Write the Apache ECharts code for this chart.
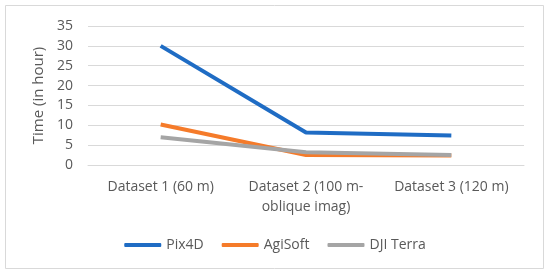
<!DOCTYPE html>
<html>
<head>
<meta charset="utf-8">
<script src="https://cdn.jsdelivr.net/npm/echarts@6/dist/echarts.min.js"></script>
<style>
html, body { margin: 0; padding: 0; background: #fff; }
#main { width: 550px; height: 276px; }
</style>
</head>
<body>
<div id="main"></div>
<script>
var categories = ['Dataset 1 (60 m)', 'Dataset 2 (100 m-\noblique imag)', 'Dataset 3 (120 m)'];
var pix4d = [30, 8.2, 7.4];
var agisoft = [10.2, 2.5, 2.4];
var djiTerra = [7, 3.2, 2.5];
var yTicks = { min: 0, max: 35, interval: 5 };

var myChart = echarts.init(document.getElementById('main'));
var font = 'Open Sans';

option = {
    backgroundColor: '#fff',
    animation: false,
    graphic: [{
        type: 'rect',
        shape: { x: 5.5, y: 5.5, width: 538, height: 263 },
        style: { fill: 'none', stroke: '#d9d9d9', lineWidth: 1 }
    }],
    grid: {
        left: 88,
        right: 26,
        top: 26,
        bottom: 111
    },
    legend: {
        top: 233,
        left: 'center',
        itemWidth: 37,
        itemHeight: 4,
        itemGap: 18,
        icon: 'roundRect',
        textStyle: { color: '#595959', fontSize: 14, fontFamily: font },
        data: ['Pix4D', 'AgiSoft', 'DJI Terra']
    },
    xAxis: {
        type: 'category',
        data: categories,
        boundaryGap: true,
        axisLine: { lineStyle: { color: '#d9d9d9' } },
        axisTick: { show: false },
        axisLabel: {
            color: '#595959',
            fontSize: 14,
            fontFamily: font,
            margin: 12,
            lineHeight: 20,
            interval: 0
        }
    },
    yAxis: {
        type: 'value',
        min: yTicks.min,
        max: yTicks.max,
        interval: yTicks.interval,
        name: 'Time (in hour)',
        nameLocation: 'middle',
        nameGap: 40,
        nameTextStyle: { color: '#595959', fontSize: 15, fontFamily: font },
        axisLine: { show: false },
        axisTick: { show: false },
        splitLine: { lineStyle: { color: '#d9d9d9' } },
        axisLabel: { color: '#595959', fontSize: 14, fontFamily: font, margin: 15 }
    },
    series: [{
        name: 'Pix4D',
        type: 'line',
        data: pix4d,
        symbol: 'none',
        color: '#1f6cc4',
        lineStyle: { width: 4, color: '#1f6cc4' }
    }, {
        name: 'AgiSoft',
        type: 'line',
        data: agisoft,
        symbol: 'none',
        color: '#f57b2a',
        lineStyle: { width: 4, color: '#f57b2a' }
    }, {
        name: 'DJI Terra',
        type: 'line',
        data: djiTerra,
        symbol: 'none',
        color: '#a5a5a5',
        lineStyle: { width: 4, color: '#a5a5a5' }
    }]
};
myChart.setOption(option);
</script>
</body>
</html>
